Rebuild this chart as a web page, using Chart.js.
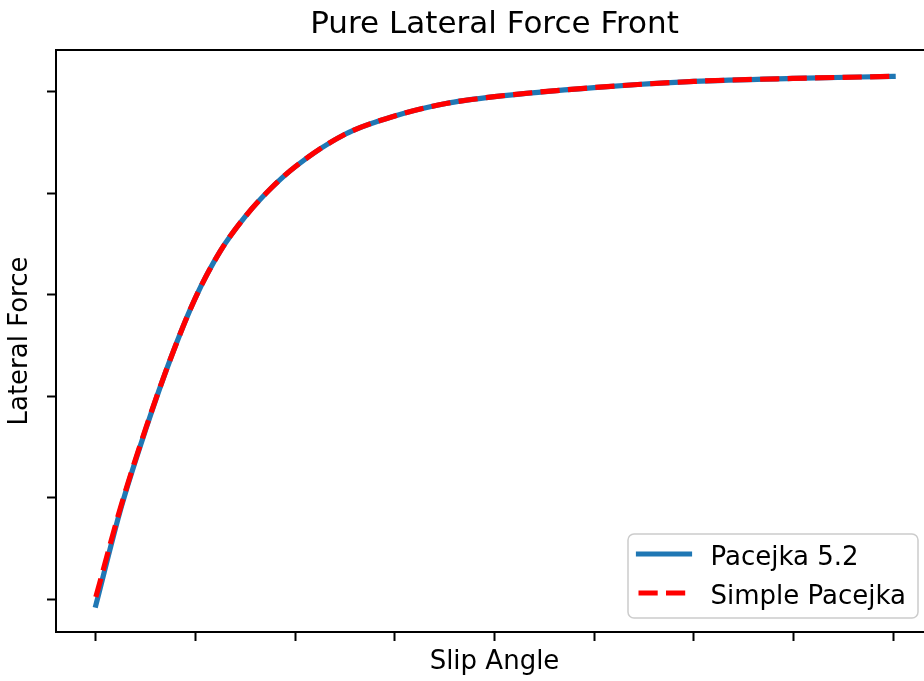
<!DOCTYPE html>
<html>
<head>
<meta charset="utf-8">
<title>Pure Lateral Force Front</title>
<script src="https://cdn.jsdelivr.net/npm/chart.js@4"></script>
<style>
  html, body { margin: 0; padding: 0; background: #fff; overflow: hidden; }
  canvas { display: block; }
</style>
</head>
<body>
<canvas id="chartFyFront" width="989" height="681"></canvas>
<script>
// Curvas de fuerza lateral pura (eje delantero)
const slipAngle = [0, 0.25, 0.5, 0.75, 1, 1.25, 1.5, 1.75, 2, 2.5, 3, 3.5, 4, 5, 6, 7, 8];
const pacejka52 = [-0.06, 0.89, 1.67, 2.37, 2.97, 3.43, 3.77, 4.04, 4.26, 4.58, 4.76, 4.88, 4.95, 5.04, 5.10, 5.13, 5.15];
const simplePacejka = [0.02, 0.91, 1.68, 2.37, 2.97, 3.43, 3.77, 4.04, 4.26, 4.58, 4.76, 4.88, 4.95, 5.04, 5.10, 5.13, 5.15];
const xTicks = [0, 1, 2, 3, 4, 5, 6, 7, 8];
const yTicks = [0, 1, 2, 3, 4, 5];

document.addEventListener('DOMContentLoaded', () => {
    const C = {
        blue: '#1f77b4',
        red: '#ff0000',
        ink: '#000000',
        frame: '#cccccc'
    };
    const FONT = "'DejaVu Sans', 'Liberation Sans', sans-serif";

    Chart.defaults.font.family = FONT;
    Chart.defaults.color = C.ink;

    const toXY = ys => slipAngle.map((x, i) => ({x, y: ys[i]}));

    // Marco superior/derecho + leyenda estilo matplotlib
    const frameAndLegend = {
        id: 'frameAndLegend',
        afterDatasetsDraw(chart) {
            const {ctx, chartArea: a} = chart;
            ctx.save();
            ctx.strokeStyle = C.ink;
            ctx.lineWidth = 2;
            ctx.beginPath();
            ctx.moveTo(a.left, a.top);
            ctx.lineTo(a.right, a.top);
            ctx.lineTo(a.right, a.bottom);
            ctx.stroke();

            const w = 290, h = 84, r = 6;
            const x = a.right - 15 - w, y = a.bottom - 14 - h;
            ctx.beginPath();
            ctx.moveTo(x + r, y);
            ctx.arcTo(x + w, y, x + w, y + h, r);
            ctx.arcTo(x + w, y + h, x, y + h, r);
            ctx.arcTo(x, y + h, x, y, r);
            ctx.arcTo(x, y, x + w, y, r);
            ctx.closePath();
            ctx.fillStyle = 'rgba(255,255,255,0.8)';
            ctx.fill();
            ctx.strokeStyle = C.frame;
            ctx.lineWidth = 1.5;
            ctx.stroke();

            const rows = [20, 59];
            chart.data.datasets.forEach((ds, i) => {
                const ly = y + rows[i];
                ctx.beginPath();
                ctx.strokeStyle = ds.borderColor;
                ctx.lineWidth = ds.borderWidth;
                ctx.lineCap = ds.borderCapStyle;
                ctx.setLineDash(ds.borderDash || []);
                ctx.moveTo(x + 10.5, ly);
                ctx.lineTo(x + 61.5, ly);
                ctx.stroke();
                ctx.setLineDash([]);
                ctx.fillStyle = C.ink;
                ctx.font = `26px ${FONT}`;
                ctx.textBaseline = 'alphabetic';
                ctx.textAlign = 'left';
                ctx.fillText(ds.label, x + 82.5, ly + 11);
            });
            ctx.restore();
        }
    };

    const axisTitle = (text, padding) => ({
        display: true,
        text,
        font: {size: 26, lineHeight: 1.2},
        color: C.ink,
        padding
    });

    const axisBase = {
        type: 'linear',
        border: {display: true, color: C.ink, width: 2},
        grid: {
            display: true,
            drawOnChartArea: false,
            drawTicks: true,
            tickLength: 9,
            tickWidth: 2,
            tickColor: C.ink
        },
        ticks: {display: false}
    };

    new Chart(document.getElementById('chartFyFront'), {
        type: 'line',
        data: {
            datasets: [{
                label: 'Pacejka 5.2',
                data: toXY(pacejka52),
                borderColor: C.blue,
                borderWidth: 5.2,
                borderCapStyle: 'square',
                pointRadius: 0,
                cubicInterpolationMode: 'monotone',
                order: 1
            }, {
                label: 'Simple Pacejka',
                data: toXY(simplePacejka),
                borderColor: C.red,
                borderWidth: 5.2,
                borderCapStyle: 'butt',
                borderDash: [19.2, 8.3],
                pointRadius: 0,
                cubicInterpolationMode: 'monotone',
                order: 0
            }]
        },
        options: {
            responsive: false,
            animation: false,
            layout: {padding: {right: 56}},
            plugins: {
                legend: {display: false},
                tooltip: {enabled: false},
                title: {
                    display: true,
                    text: 'Pure Lateral Force Front',
                    fullSize: false,
                    font: {size: 31, weight: 'normal', lineHeight: 1.2},
                    color: C.ink,
                    padding: {top: 6, bottom: 6.8}
                }
            },
            scales: {
                x: {
                    ...axisBase,
                    min: -0.4,
                    max: 8.4,
                    afterBuildTicks: s => { s.ticks = xTicks.map(value => ({value})); },
                    title: axisTitle('Slip Angle', {top: 5.4, bottom: 3.4})
                },
                y: {
                    ...axisBase,
                    min: -0.325,
                    max: 5.41,
                    afterBuildTicks: s => { s.ticks = yTicks.map(value => ({value})); },
                    title: axisTitle('Lateral Force', {top: 4.4, bottom: 11.4})
                }
            }
        },
        plugins: [frameAndLegend]
    });
});
</script>
</body>
</html>
